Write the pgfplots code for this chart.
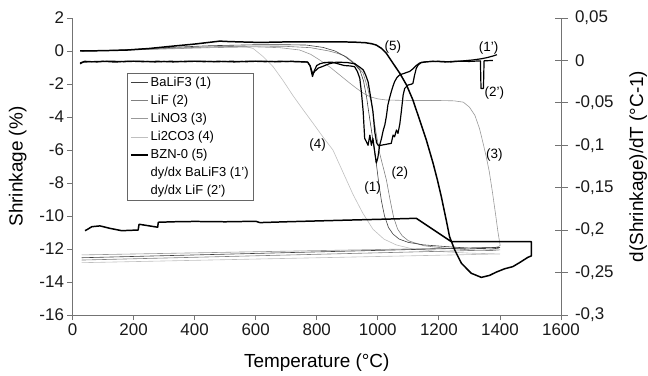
\documentclass[border=0pt]{standalone}
\usepackage{fontspec}
\setmainfont{Liberation Sans}
\usepackage{pgfplots}
\pgfplotsset{compat=1.18}

\pgfplotsset{
  cA/.style={black!75, line width=0.6pt, line join=round},
  cB/.style={black!50, line width=0.6pt, line join=round},
  cC/.style={black!40, line width=0.6pt, line join=round},
  cD/.style={black!25, line width=0.6pt, line join=round},
  cE/.style={black, line width=1.5pt, line join=round},
  dA/.style={black, line width=1.2pt, line join=round},
  common/.style={
    scale only axis, width=488.5bp, height=297bp, xmin=0, xmax=1600,
    tick label style={font=\fontsize{17}{20}\selectfont, text=black!90},
    label style={font=\fontsize{19}{22}\selectfont},
    axis line style={black!55, line width=0.8pt},
    tick style={black!55, line width=0.8pt},
    /pgf/number format/assume math mode=true,
  }
}

\begin{document}
\begin{tikzpicture}
\begin{axis}[common, name=main, at={(0,0)}, anchor=south west,
  ymin=-16, ymax=2,
  axis x line*=bottom, axis y line*=left,
  tick align=outside, major tick length=5bp,
  xtick={0,200,400,600,800,1000,1200,1400,1600},
  xticklabels={0,200,400,600,800,1000,1200,1400,1600},
  ytick={-16,-14,-12,-10,-8,-6,-4,-2,0,2},
  yticklabels={-16,-14,-12,-10,-8,-6,-4,-2,0,2},
  xlabel={Temperature (°C)},
  xlabel style={at={(axis description cs:0.5,-0.16)}, anchor=center},
  ylabel={Shrinkage (\%)},
  ylabel style={at={(axis description cs:-0.112,0.5)}, anchor=center},
]
% (4) Li2CO3
\addplot[cD] coordinates {(30,0)(150,0.04)(300,0.15)(450,0.25)(530,0.28)(570,0.25)(592,0.15)(625,-0.35)(657,-0.95)(690,-1.8)(722,-2.7)(755,-3.55)(788,-4.38)(820,-5.2)(853,-6.0)(875,-6.9)(897,-7.8)(919,-8.7)(950,-9.8)(984,-10.8)(1020,-11.4)(1060,-11.75)(1115,-12.0)(1200,-12.15)(1300,-12.25)(1400,-12.3)(30,-12.83)};
% (3) LiNO3
\addplot[cC] coordinates {(30,0)(150,0.04)(300,0.12)(450,0.2)(600,0.25)(680,0.2)(744,0.06)(780,-0.2)(810,-0.55)(845,-1.0)(875,-1.45)(905,-1.9)(930,-2.26)(952,-2.55)(974,-2.77)(1000,-2.9)(1028,-2.97)(1100,-3.0)(1200,-3.0)(1250,-3.02)(1280,-3.1)(1300,-3.4)(1318,-3.9)(1333,-4.7)(1345,-5.6)(1355,-6.4)(1365,-7.3)(1375,-8.5)(1385,-9.8)(1393,-10.9)(1399,-11.6)(1401,-11.78)(1395,-11.85)(1385,-11.9)(30,-12.36)};
% (2) LiF
\addplot[cB] coordinates {(30,0)(150,0.04)(300,0.15)(450,0.25)(600,0.3)(700,0.28)(780,0.2)(840,0.0)(870,-0.15)(897,-0.35)(925,-0.75)(952,-1.35)(966,-2.2)(979,-3.17)(992,-4.7)(1006,-6.2)(1017,-7.0)(1028,-7.8)(1040,-9.0)(1052,-10.1)(1065,-10.8)(1080,-11.2)(1100,-11.5)(1150,-11.8)(1220,-11.95)(1300,-12.05)(1370,-12.1)(1400,-12.05)(30,-12.67)};
% (1) BaLiF3
\addplot[cA] coordinates {(30,0)(150,0.05)(300,0.2)(450,0.32)(600,0.38)(700,0.38)(766,0.36)(820,0.22)(860,0.0)(890,-0.3)(915,-0.65)(941,-1.15)(953,-1.8)(963,-2.77)(971,-3.8)(979,-4.79)(987,-5.8)(995,-6.8)(1003,-8.0)(1012,-9.1)(1022,-10.0)(1035,-10.7)(1050,-11.1)(1070,-11.4)(1100,-11.6)(1150,-11.75)(1220,-11.85)(1300,-11.95)(1370,-12.0)(1395,-11.95)(1400,-11.9)(30,-12.53)};
% (5) BZN-0
\addplot[cE] coordinates {(25,0.0)(100,0.02)(180,0.06)(250,0.15)(320,0.28)(400,0.42)(483,0.6)(500,0.58)(550,0.55)(614,0.52)(700,0.55)(766,0.56)(850,0.56)(920,0.54)(960,0.5)(980,0.44)(995,0.36)(1012,0.16)(1028,-0.14)(1050,-0.75)(1072,-1.35)(1094,-2.06)(1115,-2.97)(1137,-4.18)(1159,-5.4)(1181,-6.8)(1195,-7.8)(1208,-8.83)(1224,-10.24)(1235,-11.25)(1252,-12.06)(1274,-12.87)(1306,-13.47)(1339,-13.72)(1366,-13.6)(1388,-13.4)(1415,-13.2)(1442,-13.07)(1464,-12.83)(1492,-12.5)(1503,-12.42)(1503,-11.56)(1241,-11.56)(1126,-10.14)(1006,-10.2)(900,-10.25)(799,-10.3)(700,-10.35)(614,-10.4)(600,-10.32)(500,-10.35)(400,-10.33)(330,-10.35)(281,-10.38)(279,-10.68)(218,-10.5)(215,-10.85)(161,-10.89)(123,-10.75)(90,-10.6)(63,-10.65)(50,-10.8)(41,-10.89)};
\begin{scope}[font=\fontsize{13.5}{16}\selectfont]
\node at (axis cs:983,-8.3) {(1)};
\node at (axis cs:1072,-7.4) {(2)};
\node at (axis cs:1382,-6.3) {(3)};
\node at (axis cs:803,-5.7) {(4)};
\node at (axis cs:1049,0.24) {(5)};
\node at (axis cs:1363,0.18) {(1')};
\node at (axis cs:1382,-2.55) {(2')};
\end{scope}
\end{axis}

\begin{axis}[common, at={(main.south west)}, anchor=south west,
  ymin=-0.3, ymax=0.05,
  axis y line*=right, axis x line=none,
  tick align=center, major tick length=13bp,
  ytick={-0.3,-0.25,-0.2,-0.15,-0.1,-0.05,0,0.05},
  yticklabels={{-0,3},{-0,25},{-0,2},{-0,15},{-0,1},{-0,05},{0},{0,05}},
  yticklabel style={xshift=4bp},
  ylabel={d(Shrinkage)/dT (°C-1)},
  ylabel style={at={(axis description cs:1.158,0.5)}, anchor=center},
  legend cell align=left,
  legend style={at={(0.1116,0.8148)}, anchor=north west, draw=black!60,
    fill=white, font=\fontsize{13}{15}\selectfont, row sep=3.2bp},
]
\addlegendimage{cA}\addlegendentry{BaLiF3 (1)}
\addlegendimage{cB}\addlegendentry{LiF (2)}
\addlegendimage{cC}\addlegendentry{LiNO3 (3)}
\addlegendimage{cD}\addlegendentry{Li2CO3 (4)}
\addlegendimage{cE}\addlegendentry{BZN-0 (5)}
\addlegendimage{empty legend}\addlegendentry{dy/dx BaLiF3 (1')}
\addlegendimage{empty legend}\addlegendentry{dy/dx LiF (2')}
\addplot[dA, forget plot] coordinates {(25,-0.004)(35,-0.002)(60,-0.0015)(100,-0.001)(140,-0.002)(180,-0.0008)(230,-0.0015)(280,-0.001)(330,-0.0018)(380,-0.0008)(430,-0.0015)(480,-0.001)(530,-0.0018)(580,-0.0008)(630,-0.0015)(680,-0.001)(730,-0.0015)(770,-0.002)(778,-0.006)(786,-0.019)(792,-0.012)(800,-0.006)(810,-0.004)(825,-0.0025)(850,-0.002)(870,-0.004)(890,-0.006)(910,-0.0065)(924,-0.0074)(933,-0.013)(941,-0.021)(947,-0.04)(952,-0.06)(957,-0.092)(963,-0.096)(968,-0.1)(974,-0.088)(979,-0.1)(984,-0.092)(990,-0.108)(995,-0.121)(1000,-0.115)(1006,-0.1)(1012,-0.092)(1018,-0.082)(1023,-0.076)(1028,-0.066)(1033,-0.0525)(1038,-0.045)(1044,-0.037)(1050,-0.03)(1055,-0.025)(1063,-0.02)(1072,-0.017)(1088,-0.015)(1104,-0.013)(1115,-0.01)(1126,-0.006)(1137,-0.003)(1160,-0.0015)(1200,-0.001)(1240,-0.0018)(1280,-0.0005)(1310,0.0005)(1340,0.002)(1360,0.0035)(1380,0.0055)(1390,0.0068)};
\addplot[dA, forget plot] coordinates {(25,-0.003)(40,-0.001)(80,-0.0018)(120,-0.0008)(170,-0.0015)(220,-0.0008)(270,-0.0018)(320,-0.001)(370,-0.0015)(420,-0.0008)(470,-0.0016)(520,-0.001)(570,-0.0015)(620,-0.0008)(670,-0.0016)(720,-0.001)(770,-0.0018)(779,-0.007)(787,-0.016)(793,-0.013)(805,-0.009)(820,-0.007)(840,-0.004)(864,-0.002)(900,-0.0025)(925,-0.004)(941,-0.008)(952,-0.011)(960,-0.017)(968,-0.025)(976,-0.042)(984,-0.06)(990,-0.084)(996,-0.097)(1001,-0.1)(1010,-0.1)(1025,-0.099)(1044,-0.0977)(1050,-0.088)(1055,-0.09)(1061,-0.082)(1066,-0.086)(1072,-0.075)(1077,-0.0604)(1083,-0.0407)(1088,-0.033)(1099,-0.029)(1110,-0.028)(1115,-0.027)(1120,-0.018)(1126,-0.0093)(1132,-0.0054)(1143,-0.0022)(1180,-0.001)(1220,-0.0018)(1260,-0.0008)(1300,-0.0012)(1336,-0.0005)(1338,-0.033)(1346,-0.033)(1348,-0.0005)(1377,0)};
\end{axis}
\pgfresetboundingbox
\path[use as bounding box] ([xshift=-72.5bp,yshift=-61bp]main.south west) rectangle ([xshift=87bp,yshift=18bp]main.north east);
\end{tikzpicture}
\end{document}
